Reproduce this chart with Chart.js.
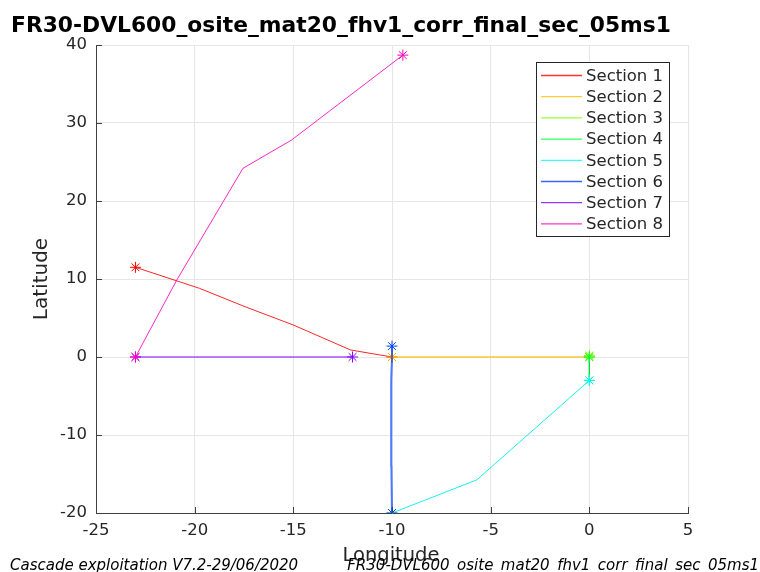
<!DOCTYPE html>
<html>
<head>
<meta charset="utf-8">
<script src="https://cdn.jsdelivr.net/npm/chart.js@4/dist/chart.umd.min.js"></script>
<style>
  html, body { margin: 0; padding: 0; background: #fff; }
  #wrap { width: 760px; height: 572px; }
</style>
</head>
<body>
<div id="wrap"><canvas id="c" width="760" height="572"></canvas></div>
<script>
// Track sections: longitude / latitude of each section's points
const sectionNames = ['Section 1', 'Section 2', 'Section 3', 'Section 4',
                      'Section 5', 'Section 6', 'Section 7', 'Section 8'];
const sec1Lon = [-23, -19.75, -17.5, -15, -12.1, -10];
const sec1Lat = [11.5, 8.8, 6.5, 4.1, 0.9, 0];
const sec2Lon = [-10, -5, 0];
const sec2Lat = [0, 0, 0];
const sec3Lon = [0, 0];
const sec3Lat = [0, 0.2];
const sec4Lon = [0, 0];
const sec4Lat = [0, -3];
const sec5Lon = [0, -5.7, -10];
const sec5Lat = [-3, -15.75, -20];
const sec6Lon = [-10, -10.03, -10.05, -10.03, -10, -10];
const sec6Lat = [-20, -14, -8, -3, 0, 1.4];
const sec7Lon = [-12, -23];
const sec7Lat = [0, 0];
const sec8Lon = [-23, -20.9, -17.55, -15.1, -9.45];
const sec8Lat = [0, 9.9, 24.2, 27.8, 38.7];

const xTicks = [-25, -20, -15, -10, -5, 0, 5];
const yTicks = [-20, -10, 0, 10, 20, 30, 40];

const titleText = 'FR30-DVL600_osite_mat20_fhv1_corr_final_sec_05ms1';
const footerLeft = 'Cascade exploitation V7.2-29/06/2020';
const footerRight = 'FR30-DVL600_osite_mat20_fhv1_corr_final_sec_05ms1';

// hsv(8) colour order
const colors = ['#ff0000', '#ffbf00', '#80ff00', '#00ff40',
                '#00ffff', '#0040ff', '#8000ff', '#ff00bf'];
const lineColors = ['rgba(255,0,0,0.85)', 'rgba(255,191,0,0.6)', 'rgba(128,255,0,0.85)',
                    'rgba(0,220,60,0.9)', 'rgba(0,240,240,0.9)', 'rgba(0,64,255,0.7)',
                    'rgba(128,0,255,0.5)', 'rgba(255,0,191,0.85)'];

const lons = [sec1Lon, sec2Lon, sec3Lon, sec4Lon, sec5Lon, sec6Lon, sec7Lon, sec8Lon];
const lats = [sec1Lat, sec2Lat, sec3Lat, sec4Lat, sec5Lat, sec6Lat, sec7Lat, sec8Lat];
const widths = [1, 2, 1, 1, 1, 2, 2, 1];

const FONT = '"DejaVu Sans", sans-serif';

const datasets = sectionNames.map((name, i) => {
  const pts = lons[i].map((x, k) => ({ x: x, y: lats[i][k] }));
  const n = pts.length;
  return {
    label: name,
    data: pts,
    showLine: true,
    borderColor: lineColors[i],
    backgroundColor: colors[i],
    borderWidth: widths[i],
    pointStyle: 'star',
    pointRadius: pts.map((p, k) => (k === 0 || k === n - 1) ? 5.5 : 0),
    pointBorderWidth: 1,
    pointBorderColor: colors[i],
    pointHoverRadius: 0,
    tension: 0,
    order: sectionNames.length - i
  };
});

// Frame decoration: inward ticks, legend box, titles and footer
const decorations = {
  id: 'decorations',
  afterDraw(chart) {
    const ctx = chart.ctx;
    const xs = chart.scales.x, ys = chart.scales.y;
    const a = chart.chartArea;
    ctx.save();
    // inward tick marks
    ctx.strokeStyle = '#404040';
    ctx.lineWidth = 1;
    ctx.beginPath();
    xTicks.forEach(v => {
      const px = Math.round(xs.getPixelForValue(v)) + 0.5;
      ctx.moveTo(px, a.bottom); ctx.lineTo(px, a.bottom - 6);
    });
    yTicks.forEach(v => {
      const py = Math.round(ys.getPixelForValue(v)) + 0.5;
      ctx.moveTo(a.left, py); ctx.lineTo(a.left + 6, py);
    });
    ctx.stroke();

    // legend box
    const lx = 536.5, ly = 62.5, lw = 133, lh = 174;
    ctx.fillStyle = '#ffffff';
    ctx.fillRect(lx, ly, lw, lh);
    ctx.strokeStyle = '#262626';
    ctx.lineWidth = 1;
    ctx.strokeRect(lx, ly, lw, lh);
    ctx.font = '16.5px ' + FONT;
    ctx.textBaseline = 'middle';
    ctx.textAlign = 'left';
    sectionNames.forEach((name, i) => {
      const yy = 75.5 + i * 21.2;
      ctx.strokeStyle = colors[i];
      ctx.lineWidth = 1.3;
      ctx.globalAlpha = 0.8;
      ctx.beginPath();
      ctx.moveTo(541, yy);
      ctx.lineTo(582, yy);
      ctx.stroke();
      ctx.globalAlpha = 1;
      ctx.fillStyle = '#262626';
      ctx.fillText(name, 586, yy + 1);
    });

    // title
    ctx.fillStyle = '#000000';
    ctx.font = 'bold 21.8px ' + FONT;
    ctx.textBaseline = 'alphabetic';
    ctx.textAlign = 'left';
    ctx.fillText(titleText, 11, 32);

    // axis titles
    ctx.fillStyle = '#262626';
    ctx.font = '19.5px ' + FONT;
    ctx.textAlign = 'center';
    ctx.textBaseline = 'alphabetic';
    ctx.fillText('Longitude', 391, 561);
    ctx.save();
    ctx.translate(47, (a.top + a.bottom) / 2);
    ctx.rotate(-Math.PI / 2);
    ctx.font = '20px ' + FONT;
    ctx.fillText('Latitude', 0, 0);
    ctx.restore();

    // footer
    ctx.fillStyle = '#000000';
    ctx.font = 'italic 15px ' + FONT;
    ctx.textBaseline = 'alphabetic';
    ctx.textAlign = 'left';
    ctx.fillText(footerLeft, 10, 570);
    ctx.textAlign = 'right';
    ctx.fillText(footerRight, 759, 570);
    ctx.restore();
  }
};

new Chart(document.getElementById('c'), {
  type: 'scatter',
  data: { datasets: datasets },
  options: {
    responsive: false,
    animation: false,
    devicePixelRatio: 1,
    layout: { padding: { left: 0, top: 45, right: 72, bottom: 0 } },
    plugins: {
      legend: { display: false },
      tooltip: { enabled: false },
      title: { display: false }
    },
    scales: {
      x: {
        type: 'linear',
        min: -25, max: 5,
        afterBuildTicks: s => { s.ticks = xTicks.map(v => ({ value: v })); },
        afterFit: s => { s.height = 572 - 513; },
        grid: { color: '#e6e6e6', drawTicks: false, lineWidth: 1 },
        border: { display: true, color: '#404040', width: 1 },
        ticks: { color: '#262626', font: { family: FONT, size: 16.5 }, padding: 8 }
      },
      y: {
        type: 'linear',
        min: -20, max: 40,
        afterBuildTicks: s => { s.ticks = yTicks.map(v => ({ value: v })); },
        afterFit: s => { s.width = 96; },
        grid: { color: '#e6e6e6', drawTicks: false, lineWidth: 1 },
        border: { display: true, color: '#404040', width: 1 },
        ticks: { color: '#262626', font: { family: FONT, size: 16.5 }, padding: 9 }
      }
    }
  },
  plugins: [decorations]
});
</script>
</body>
</html>
